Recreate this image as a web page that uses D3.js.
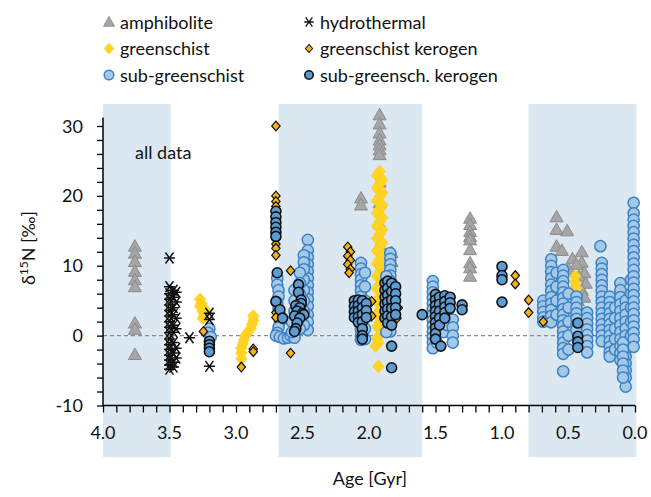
<!DOCTYPE html>
<html>
<head>
<meta charset="utf-8">
<script src="https://cdn.jsdelivr.net/npm/d3@7"></script>
<style>
  body { margin: 0; background: #fff; }
  text { font-family: Lato, "Liberation Sans", sans-serif; fill: #111; }
</style>
</head>
<body>
<script>
// age [Gyr], d15N [permil] pairs
var amphibolite = [
  [3.76,12.8],[3.76,11.8],[3.76,10.6],[3.76,9.2],[3.76,8.0],[3.76,7.0],[3.76,1.8],[3.76,0.9],[3.76,-2.7],
  [2.06,19.7],[2.06,18.7],
  [1.92,31.6],[1.92,30.3],[1.92,29.0],[1.92,28.0],[1.92,27.3],[1.92,26.6],[1.92,25.9],[1.92,22.0],[1.92,19.0],[1.92,16.0],[1.92,13.0],
  [1.83,11.9],[1.83,10.6],[1.82,8.0],[1.82,6.0],[1.82,4.0],
  [1.24,16.8],[1.24,15.9],[1.24,14.9],[1.24,14.2],[1.24,13.7],[1.24,12.3],[1.24,10.4],[1.24,9.7],[1.24,8.5],
  [0.59,17.0],[0.59,15.2],[0.51,15.0],[0.59,12.8],[0.55,12.2],[0.40,12.0],[0.47,11.0],[0.40,10.5],[0.44,10.2],
  [0.50,9.5],[0.38,9.0],[0.42,8.5],[0.55,8.0],[0.37,7.5],[0.45,7.0],[0.40,6.5],[0.38,5.5],[0.43,5.0],[0.47,6.0]
];

var greenschist = [
  [3.27,5.2],[3.26,4.6],[3.27,4.2],[3.25,4.0],[3.23,3.6],[3.25,3.5],[3.24,3.0],[3.25,2.5],
  [2.96,-3.3],[2.96,-2.5],[2.96,-1.8],[2.95,-1.2],[2.94,-0.6],[2.93,0.0],[2.91,0.5],[2.89,1.0],[2.88,1.6],[2.87,2.2],[2.87,2.8],
  [1.92,23.5],[1.94,22.9],[1.90,22.3],[1.92,21.7],[1.94,21.1],[1.90,20.5],[1.92,19.9],[1.94,19.3],[1.90,18.7],[1.92,18.1],
  [1.94,17.5],[1.90,16.9],[1.92,16.3],[1.94,15.7],[1.90,15.1],[1.92,14.5],[1.94,13.9],[1.90,13.3],[1.92,12.7],[1.94,12.1],
  [1.90,11.5],[1.92,10.9],[1.94,10.3],[1.90,9.7],[1.92,9.1],[1.94,8.5],[1.90,7.9],[1.92,7.3],[1.94,6.7],[1.90,6.1],
  [1.92,5.5],[1.94,4.9],[1.90,4.3],[1.92,3.7],[1.94,3.1],[1.90,2.5],[1.92,1.9],[1.94,1.3],[1.90,0.7],[1.92,0.1],
  [1.94,-0.5],[1.93,-1.0],[1.95,-1.5],[1.93,-4.4],
  [0.45,8.5],[0.45,7.6],[0.44,6.8]
];

var subGreenschist = [
  [3.20,1.0],[3.21,0.4],[3.19,-0.2],
  [2.69,8.2],[2.69,7.3],[2.68,6.5],[2.68,5.6],[2.69,4.7],[2.68,3.8],[2.67,2.9],[2.67,2.0],[2.68,1.2],[2.69,0.4],[2.70,0.0],
  [2.67,-0.2],[2.64,-0.4],[2.61,-0.3],[2.59,0.0],
  [2.46,13.7],[2.46,12.2],[2.46,11.2],[2.46,10.2],[2.46,9.2],[2.46,8.2],[2.46,7.2],[2.46,6.2],[2.46,5.2],[2.46,4.2],[2.46,3.0],[2.46,2.0],[2.46,0.8],
  [2.49,11.5],[2.49,10.5],[2.49,9.5],[2.49,8.0],[2.49,6.5],[2.49,5.0],[2.49,3.5],[2.49,1.5],
  [2.52,9.0],[2.52,7.5],[2.52,6.0],[2.52,4.5],[2.52,3.0],[2.52,1.0],
  [2.56,6.5],[2.56,5.0],[2.56,3.5],[2.56,2.0],[2.56,0.5],[2.56,-0.3],[2.58,2.0],[2.58,0.5],
  [2.06,10.4],[2.06,9.6],[2.06,8.8],[2.06,8.0],[2.06,7.2],[2.06,6.4],[2.06,5.6],[2.06,4.8],[2.06,4.0],[2.06,3.2],[2.06,2.4],[2.06,1.6],[2.06,0.8],[2.06,0.0],[2.06,-0.6],
  [2.03,9.0],[2.03,7.0],[2.03,5.0],[2.03,3.0],[2.03,1.0],[2.03,-0.5],
  [1.84,11.8],[1.84,11.0],[1.84,10.2],[1.84,9.4],[1.84,8.6],[1.84,7.8],[1.84,7.0],[1.84,6.2],[1.84,5.4],[1.84,4.6],[1.84,3.8],[1.84,3.0],[1.84,2.2],[1.84,1.4],[1.84,0.6],
  [1.87,8.5],[1.87,6.5],[1.87,4.5],[1.87,2.5],[1.87,0.5],
  [1.52,7.8],[1.52,7.0],[1.52,6.2],[1.52,5.4],[1.52,4.6],[1.52,3.8],[1.52,3.0],[1.52,2.2],[1.52,1.4],[1.52,0.6],[1.52,-0.2],[1.52,-1.0],[1.52,-1.8],
  [1.49,3.0],[1.49,1.0],[1.49,-1.0],[1.44,2.0],[1.44,0.5],[1.41,1.5],[1.37,2.3],[1.37,1.2],[1.37,0.0],[1.37,-1.0],
  [0.69,5.0],[0.69,4.2],[0.69,3.4],[0.69,2.6],[0.69,2.0],
  [0.63,10.9],[0.63,10.0],[0.63,9.1],[0.63,8.2],[0.63,7.3],[0.63,6.4],[0.63,5.5],[0.63,4.6],[0.63,3.7],[0.63,2.8],[0.63,1.9],
  [0.59,9.0],[0.59,7.0],[0.59,5.0],[0.59,3.0],
  [0.54,9.4],[0.54,8.6],[0.54,7.8],[0.54,7.0],[0.54,6.2],[0.54,5.4],[0.54,4.6],[0.54,3.8],[0.54,3.0],[0.54,2.2],[0.54,1.4],[0.54,0.6],
  [0.54,-0.2],[0.54,-1.0],[0.54,-1.8],[0.54,-2.6],[0.54,-5.1],
  [0.50,6.0],[0.50,4.0],[0.50,2.0],[0.50,0.0],[0.50,-2.0],
  [0.44,5.6],[0.44,4.8],[0.44,4.0],[0.44,3.2],[0.44,2.4],[0.44,1.6],[0.44,0.8],
  [0.36,3.3],[0.36,2.5],[0.36,1.7],[0.36,0.9],[0.36,0.1],[0.36,-0.7],[0.36,-1.5],[0.36,-2.4],
  [0.26,12.8],
  [0.25,10.4],[0.25,9.6],[0.25,8.8],[0.25,8.0],[0.25,7.2],[0.25,6.4],[0.25,5.6],[0.25,4.8],[0.25,4.0],[0.25,3.2],[0.25,2.4],[0.25,1.6],[0.25,0.8],[0.25,0.0],[0.25,-0.8],
  [0.19,5.6],[0.19,4.8],[0.19,4.0],[0.19,3.2],[0.19,2.4],[0.19,1.6],[0.19,0.8],[0.19,0.0],[0.19,-0.8],[0.19,-1.6],[0.19,-2.4],[0.19,-3.0],
  [0.15,4.0],[0.15,2.5],[0.15,1.0],[0.15,-0.5],[0.15,-2.0],
  [0.11,7.5],[0.11,6.5],[0.11,5.5],[0.11,4.5],[0.11,3.5],[0.11,2.5],[0.11,1.5],[0.11,0.5],[0.11,-0.5],[0.11,-1.5],[0.11,-2.5],[0.11,-3.5],
  [0.07,5.0],[0.07,4.0],[0.07,3.0],[0.07,2.0],[0.07,1.0],[0.07,0.0],[0.07,-1.0],[0.07,-2.0],[0.07,-3.0],[0.07,-4.0],[0.07,-5.0],[0.07,-6.0],[0.07,-7.3],
  [0.09,-1.0],[0.09,-2.0],[0.09,-3.0],[0.09,-4.0],[0.09,-5.0],[0.09,-6.0],
  [0.03,8.0],[0.03,6.0],[0.03,4.0],[0.03,2.0],[0.03,0.0],
  [0.01,19.0],[0.01,17.5],[0.01,16.6],[0.01,15.7],[0.01,14.8],[0.01,13.9],[0.01,13.0],[0.01,12.1],[0.01,11.2],[0.01,10.3],[0.01,9.4],
  [0.01,8.5],[0.01,7.6],[0.01,6.7],[0.01,5.8],[0.01,4.9],[0.01,4.0],[0.01,3.1],[0.01,2.2],[0.01,1.3],[0.01,0.4],[0.01,-0.5],[0.01,-1.6]
];

var hydrothermal = [
  [3.50,11.1],
  [3.50,7.0],[3.50,6.0],[3.50,5.2],[3.50,4.4],[3.50,3.6],[3.50,2.8],[3.50,2.0],[3.50,1.2],[3.50,0.4],[3.50,-0.5],
  [3.50,-1.3],[3.50,-2.0],[3.50,-2.8],[3.50,-3.5],[3.50,-4.2],[3.50,-4.8],
  [3.47,6.5],[3.47,5.5],[3.47,4.0],[3.47,3.0],[3.47,1.5],[3.47,0.5],[3.47,-1.0],[3.47,-2.5],[3.47,-3.8],[3.47,-4.5],
  [3.45,6.2],[3.45,4.8],[3.45,2.5],[3.45,1.0],[3.45,-1.8],[3.45,-3.2],
  [3.35,-0.3],
  [3.20,3.2],[3.20,2.3],[3.20,-4.4]
];

var greenschistKerogen = [
  [3.245,0.6],[2.87,-1.9],[2.87,-2.3],[2.96,-4.5],
  [2.70,30.0],[2.70,20.0],[2.70,19.2],[2.70,18.5],[2.70,17.5],[2.70,16.5],[2.70,15.5],[2.70,14.5],[2.70,13.8],[2.70,13.1],
  [2.70,12.5],[2.70,11.5],[2.70,3.3],[2.70,2.6],
  [2.59,9.3],[2.59,-2.5],
  [2.16,12.7],[2.14,12.0],[2.16,11.4],[2.14,10.8],[2.16,10.2],[2.14,9.5],[2.15,9.0],
  [1.98,4.9],[1.98,2.8],[1.78,4.0],[1.79,2.5],
  [0.90,8.6],[0.90,7.4],[0.80,5.1],[0.80,3.3],[0.69,2.0]
];

var subGreenschKerogen = [
  [3.20,-0.8],[3.20,-1.3],[3.20,-1.8],[3.20,-2.3],
  [2.70,17.8],[2.70,17.0],[2.70,16.2],[2.70,15.5],[2.70,14.8],[2.70,14.2],[2.69,9.0],[2.70,4.9],[2.67,3.7],[2.65,2.5],
  [2.53,7.3],[2.53,6.2],[2.51,5.1],[2.51,4.6],[2.55,4.3],[2.52,4.0],[2.54,3.5],[2.50,3.2],[2.49,3.0],[2.56,2.8],
  [2.52,2.5],[2.54,1.8],[2.55,1.0],[2.56,0.6],
  [2.11,5.0],[2.11,4.2],[2.11,3.4],[2.11,2.6],
  [2.08,5.1],[2.08,4.3],[2.08,3.5],[2.08,2.7],[2.08,1.9],
  [2.05,5.0],[2.05,4.0],[2.05,3.0],[2.05,2.0],[2.05,1.0],[2.05,0.0],[2.05,-0.5],
  [2.02,4.6],[2.02,3.6],[2.02,2.6],
  [1.88,7.5],[1.88,6.5],[1.88,5.5],[1.88,4.5],[1.88,3.5],[1.88,2.5],
  [1.86,7.8],[1.86,6.8],[1.86,5.8],[1.86,4.8],[1.86,3.8],[1.86,2.8],[1.86,1.8],
  [1.83,7.5],[1.83,6.3],[1.83,5.1],[1.83,3.9],[1.83,2.7],[1.83,1.5],[1.83,-1.5],[1.83,-4.6],
  [1.80,7.0],[1.80,6.0],[1.80,5.0],[1.80,4.0],[1.80,3.0],
  [1.60,3.0],
  [1.50,5.9],[1.50,5.1],[1.50,4.3],[1.50,3.5],[1.50,2.7],[1.50,1.9],[1.50,1.1],[1.50,0.3],[1.50,-0.5],[1.46,-1.5],
  [1.47,5.5],[1.47,4.5],[1.47,3.5],[1.47,2.5],[1.47,1.5],
  [1.43,5.7],[1.43,4.9],[1.43,4.1],[1.43,3.3],[1.43,2.5],
  [1.39,5.5],[1.39,4.7],[1.39,3.9],
  [1.30,4.4],[1.30,3.7],
  [1.00,9.9],[1.00,8.6],[1.00,8.0],[1.00,4.8],
  [0.43,1.8],[0.43,-0.1],[0.43,-0.9],[0.43,-1.7]
];

// shaded age intervals [from, to]
var bands = [[4.0, 3.49], [2.68, 1.60], [0.80, -0.01]];
var xTicks = [4.0, 3.5, 3.0, 2.5, 2.0, 1.5, 1.0, 0.5, 0.0];
var yTicks = [-10, 0, 10, 20, 30];

var legendItems = [
  {name: "amphibolite", type: "tri", col: 0, row: 0},
  {name: "greenschist", type: "gs", col: 0, row: 1},
  {name: "sub-greenschist", type: "sgs", col: 0, row: 2},
  {name: "hydrothermal", type: "hyd", col: 1, row: 0},
  {name: "greenschist kerogen", type: "gsk", col: 1, row: 1},
  {name: "sub-greensch. kerogen", type: "sgk", col: 1, row: 2}
];

var w = 651, h = 497;
var svg, x, y;

var styles = {
  tri: {d: "M0,-6.5L6.5,5L-6.5,5Z", fill: "#a6a6a6", stroke: "#8a8a8a", sw: 1},
  gs:  {d: "M0,-6.5L5.8,0L0,6.5L-5.8,0Z", fill: "#ffd426", stroke: "#ffc800", sw: 0.5},
  sgs: {d: "circle", r: 5.6, fill: "#a3c8e8", stroke: "#3c82c4", sw: 1.5},
  hyd: {d: "M-4,-5.5L4,5.5M4,-5.5L-4,5.5M-5.5,0L5.5,0", fill: "none", stroke: "#111", sw: 1.5},
  gsk: {d: "M0,-4.8L4.2,0L0,4.8L-4.2,0Z", fill: "#f7b21b", stroke: "#111", sw: 1.2},
  sgk: {d: "circle", r: 5, fill: "#5d9bd3", stroke: "#111", sw: 1.6}
};

function drawSeries(data, type) {
  var s = styles[type];
  var g = svg.append("g");
  if (s.d === "circle") {
    g.selectAll("circle").data(data).enter().append("circle")
      .attr("cx", function(d) { return x(d[0]); })
      .attr("cy", function(d) { return y(d[1]); })
      .attr("r", s.r)
      .attr("fill", s.fill).attr("stroke", s.stroke).attr("stroke-width", s.sw);
  } else {
    g.selectAll("path").data(data).enter().append("path")
      .attr("transform", function(d) { return "translate(" + x(d[0]) + "," + y(d[1]) + ")"; })
      .attr("d", s.d)
      .attr("fill", s.fill).attr("stroke", s.stroke).attr("stroke-width", s.sw);
  }
}

function initD3() {
  x = d3.scaleLinear().domain([4, 0]).range([103, 635]);
  y = d3.scaleLinear().domain([-10, 30]).range([405.5, 126]);

  svg = d3.select("body").append("svg")
    .attr("width", w)
    .attr("height", h);

  // background bands, reaching below the axis
  svg.selectAll("rect.band").data(bands).enter().append("rect")
    .attr("class", "band")
    .attr("x", function(d) { return x(d[0]); })
    .attr("width", function(d) { return x(d[1]) - x(d[0]); })
    .attr("y", 104)
    .attr("height", 353)
    .attr("fill", "#dbe8f1");

  svg.append("text").attr("x", 135).attr("y", 159)
    .style("font-size", "18px").text("all data");

  // zero line
  svg.append("line")
    .attr("x1", x(4)).attr("x2", x(0))
    .attr("y1", y(0)).attr("y2", y(0))
    .attr("stroke", "#8c8c8c").attr("stroke-width", 1.2)
    .attr("stroke-dasharray", "4,3");

  // axes
  var xAxis = d3.axisBottom(x)
    .tickValues(d3.range(0, 41).map(function(i) { return i / 10; }))
    .tickSize(7).tickFormat("");
  svg.append("g").attr("transform", "translate(0," + y(-10) + ")").call(xAxis)
    .call(function(g) {
      g.select(".domain").attr("stroke-width", 1.5).attr("d", "M" + x(4) + ",0H" + x(0));
      g.selectAll(".tick line").attr("stroke-width", 1.3);
    });
  svg.append("g").selectAll("text").data(xTicks).enter().append("text")
    .attr("x", function(d) { return x(d); })
    .attr("y", 439)
    .attr("text-anchor", "middle")
    .style("font-size", "18px")
    .text(function(d) { return d.toFixed(1); });

  var yAxis = d3.axisLeft(y)
    .tickValues(d3.range(-10, 31, 2))
    .tickSize(6).tickFormat("");
  svg.append("g").attr("transform", "translate(" + x(4) + ",0)").call(yAxis)
    .call(function(g) {
      g.select(".domain").attr("stroke-width", 1.5).attr("d", "M0," + y(-10) + "V" + y(31.2));
      g.selectAll(".tick line").attr("stroke-width", 1.3);
    });
  svg.append("g").selectAll("text").data(yTicks).enter().append("text")
    .attr("x", 83)
    .attr("y", function(d) { return y(d) + 6.5; })
    .attr("text-anchor", "end")
    .style("font-size", "18px")
    .text(function(d) { return d; });

  // axis titles
  var yl = svg.append("text")
    .attr("transform", "translate(35,248)rotate(-90)")
    .attr("text-anchor", "middle")
    .style("font-size", "18px");
  yl.append("tspan").text("δ");
  yl.append("tspan").attr("dy", -7).style("font-size", "12px").text("15");
  yl.append("tspan").attr("dy", 7).text("N [‰]");

  svg.append("text").attr("x", 370).attr("y", 485)
    .attr("text-anchor", "middle").style("font-size", "18px").text("Age [Gyr]");

  // data
  drawSeries(amphibolite, "tri");
  drawSeries(greenschist, "gs");
  drawSeries(subGreenschist, "sgs");
  drawSeries(hydrothermal, "hyd");
  drawSeries(greenschistKerogen, "gsk");
  drawSeries(subGreenschKerogen, "sgk");

  // legend
  var lg = svg.append("g").selectAll("g").data(legendItems).enter().append("g")
    .attr("transform", function(d) {
      return "translate(" + (d.col ? 309 : 109) + "," + (22 + d.row * 26.5) + ")";
    });
  lg.each(function(d) {
    var s = styles[d.type];
    var g = d3.select(this);
    if (s.d === "circle") {
      g.append("circle").attr("r", s.r - 0.8)
        .attr("fill", s.fill).attr("stroke", s.stroke).attr("stroke-width", s.sw);
    } else {
      g.append("path").attr("d", s.d).attr("transform", "scale(0.85)")
        .attr("fill", s.fill).attr("stroke", s.stroke).attr("stroke-width", s.sw);
    }
  });
  lg.append("text").attr("x", 11).attr("y", 6.5)
    .style("font-size", "18px")
    .text(function(d) { return d.name; });
}

initD3();
</script>
</body>
</html>
